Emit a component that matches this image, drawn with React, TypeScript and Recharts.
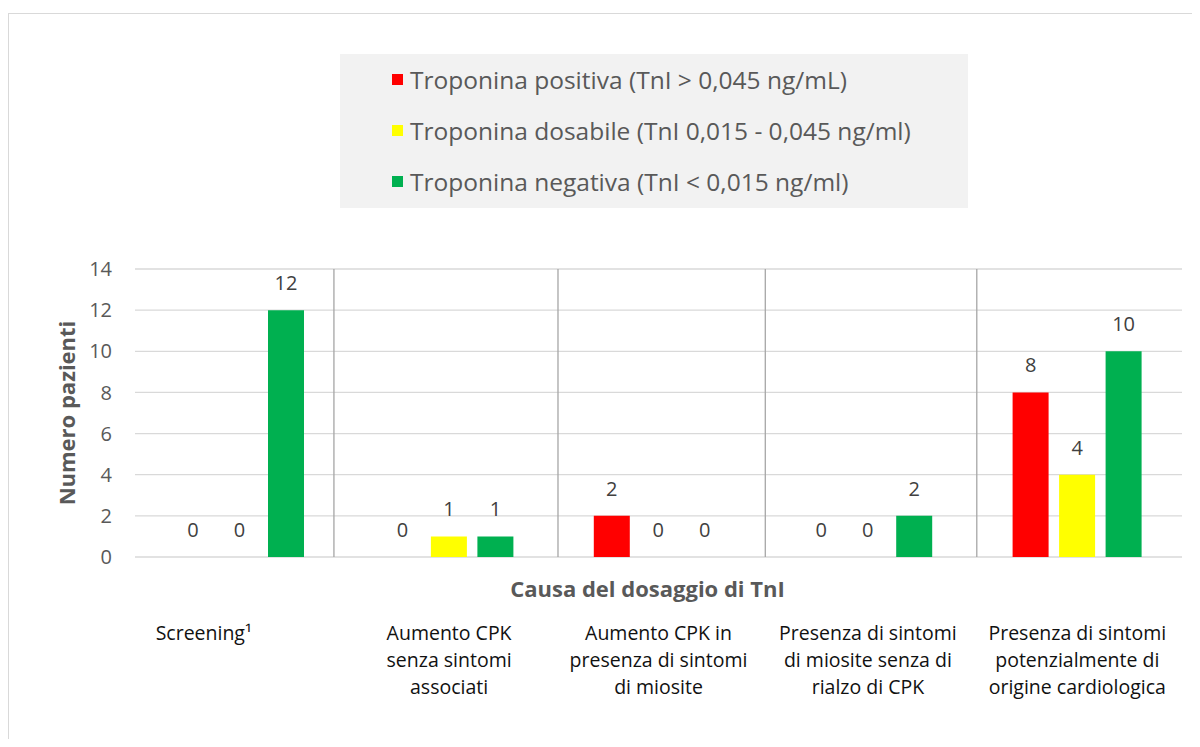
import { BarChart, Bar, XAxis, YAxis, CartesianGrid, Legend, LabelList, ReferenceLine } from 'recharts'

const categories = [
  'Screening¹',
  'Aumento CPK senza sintomi associati',
  'Aumento CPK in presenza di sintomi di miosite',
  'Presenza di sintomi di miosite senza di rialzo di CPK',
  'Presenza di sintomi potenzialmente di origine cardiologica',
]
// wrapped tick text, one array per category
const categoryLines = [
  ['Screening¹'],
  ['Aumento CPK', 'senza sintomi', 'associati'],
  ['Aumento CPK in', 'presenza di sintomi', 'di miosite'],
  ['Presenza di sintomi', 'di miosite senza di', 'rialzo di CPK'],
  ['Presenza di sintomi', 'potenzialmente di', 'origine cardiologica'],
]
const positiva = [0, 0, 2, 0, 8]
const dosabile = [0, 1, 0, 0, 4]
const negativa = [12, 1, 0, 2, 10]
const yTicks = [0, 2, 4, 6, 8, 10, 12, 14]
// vertical separator lines, in category units along the axis
const separators = [0.95, 2.02, 3.01, 4.02]

const seriesNames = {
  positiva: 'Troponina positiva (TnI > 0,045 ng/mL)',
  dosabile: 'Troponina dosabile (TnI 0,015 - 0,045 ng/ml)',
  negativa: 'Troponina negativa (TnI < 0,015 ng/ml)',
}
const colors = { positiva: '#ff0000', dosabile: '#ffff00', negativa: '#00b050' }

const data = categories.map((c, i) => ({
  name: c,
  positiva: positiva[i],
  dosabile: dosabile[i],
  negativa: negativa[i],
}))

const FONT = '"Open Sans", sans-serif'
const tickShift = [-36, 0, 0, 0, 0]

function CategoryTick(props: any) {
  const { x, y, index } = props
  const lines = categoryLines[index] || []
  const cx = x + tickShift[index]
  return (
    <text x={cx} y={y + 83} textAnchor="middle" fontFamily={FONT} fontSize={19.5} fill="#111">
      {lines.map((l, i) => (
        <tspan key={i} x={cx} dy={i === 0 ? 0 : 27}>{l}</tspan>
      ))}
    </text>
  )
}

function LegendBox() {
  const keys = ['positiva', 'dosabile', 'negativa'] as const
  return (
    <div style={{ width: 628, height: 154, background: '#f2f2f2', paddingLeft: 52, boxSizing: 'border-box' }}>
      {keys.map(k => (
        <div key={k} style={{ height: 51, display: 'flex', alignItems: 'center' }}>
          <span style={{ width: 11, height: 11, background: colors[k], display: 'inline-block', marginRight: 7 }} />
          <span style={{ fontFamily: FONT, fontSize: 24.5, color: '#595959', whiteSpace: 'nowrap' }}>{seriesNames[k]}</span>
        </div>
      ))}
    </div>
  )
}

export default function App() {
  return (
    <div style={{ position: 'relative', width: 1192, height: 731, overflow: 'hidden' }}>
      <div style={{ position: 'absolute', top: 5, left: 0, width: 1220, height: 800, border: '1px solid #d9d9d9', background: '#fff' }}>
        <BarChart
          width={1190}
          height={720}
          data={data}
          margin={{ top: 255, right: 17, left: 0, bottom: 27 }}
          barSize={36}
          barGap={10.5}
        >
          <CartesianGrid vertical={false} stroke="#d9d9d9" strokeWidth={1.3} />
          <XAxis
            dataKey="name"
            height={150}
            axisLine={false}
            tickLine={false}
            tickSize={0}
            tickMargin={0}
            interval={0}
            tick={<CategoryTick />}
            label={{
              value: 'Causa del dosaggio di TnI',
              position: 'insideTop',
              offset: 24,
              dx: -11,
              style: { fontFamily: FONT, fontSize: 22, fontWeight: 700, fill: '#595959' },
            }}
          />
          <XAxis xAxisId="sep" type="number" dataKey={() => 0} domain={[0, 5]} allowDataOverflow hide />
          <YAxis
            width={126}
            domain={[0, 14]}
            ticks={yTicks}
            axisLine={false}
            tickLine={false}
            tickSize={0}
            tickMargin={23}
            tick={{ fontFamily: FONT, fontSize: 20, fill: '#595959' }}
            label={{
              value: 'Numero pazienti',
              angle: -90,
              position: 'insideLeft',
              offset: 58,
              style: { textAnchor: 'middle', fontFamily: FONT, fontSize: 22, fontWeight: 700, fill: '#595959' },
            }}
          />
          {separators.map(s => (
            <ReferenceLine key={s} x={s} xAxisId="sep" stroke="#a6a6a6" strokeWidth={1.3} ifOverflow="visible" />
          ))}
          <Legend
            layout="vertical"
            align="center"
            verticalAlign="middle"
            wrapperStyle={{ top: 40, left: 331, width: 628, height: 154 }}
            content={<LegendBox />}
          />
          {(['positiva', 'dosabile', 'negativa'] as const).map(k => (
            <Bar key={k} dataKey={k} name={seriesNames[k]} fill={colors[k]} minPointSize={0.01} isAnimationActive={false}>
              <LabelList
                dataKey={k}
                position="top"
                offset={20}
                style={{ fontFamily: FONT, fontSize: 20, fill: '#404040' }}
              />
            </Bar>
          ))}
        </BarChart>
      </div>
    </div>
  )
}
